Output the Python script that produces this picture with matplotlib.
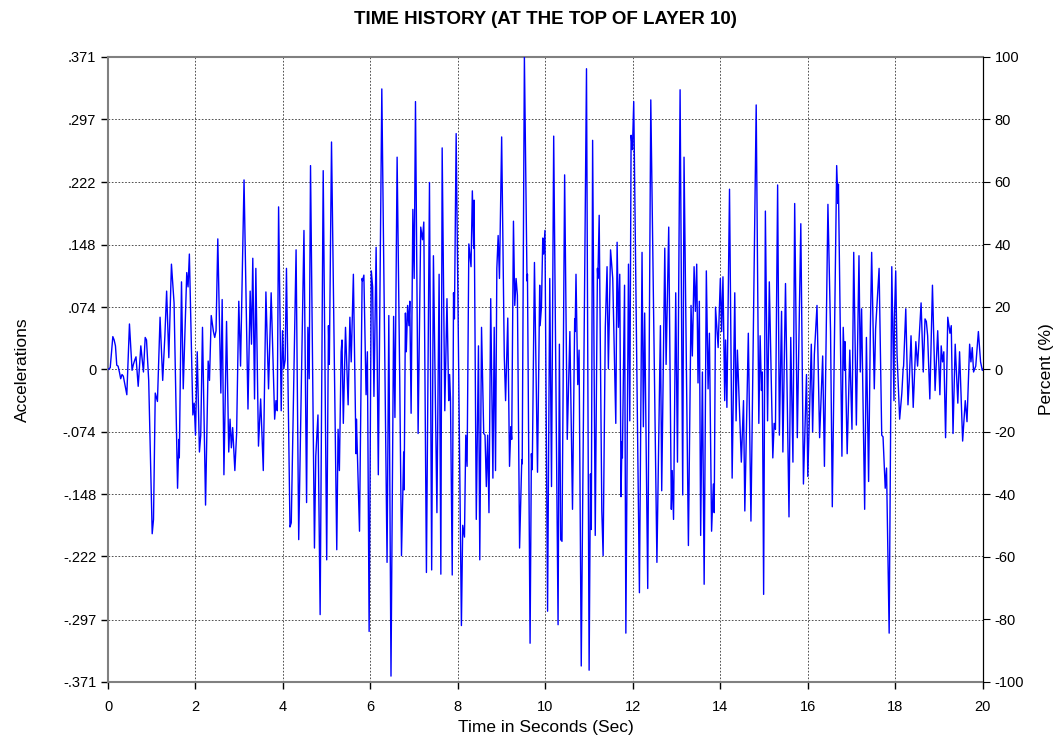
import matplotlib
matplotlib.use("Agg")
import matplotlib.pyplot as plt

plt.rcParams["font.family"] = ["Liberation Sans Narrow", "Liberation Sans", "DejaVu Sans"]
plt.rcParams["axes.unicode_minus"] = False

# turning points
time_s = [
    0.00, 0.05, 0.11, 0.14, 0.17, 0.20, 0.23, 0.26, 0.29, 0.32, 0.35, 0.38, 0.43, 0.49, 0.55, 0.58,
    0.61, 0.64, 0.69, 0.75, 0.81, 0.85, 0.88, 0.93, 1.01, 1.04, 1.08, 1.13, 1.19, 1.25, 1.30, 1.34,
    1.39, 1.45, 1.51, 1.59, 1.62, 1.63, 1.68, 1.72, 1.80, 1.83, 1.86, 1.94, 1.97, 2.00, 2.04, 2.09,
    2.12, 2.16, 2.23, 2.29, 2.32, 2.36, 2.41, 2.44, 2.47, 2.51, 2.58, 2.61, 2.65, 2.71, 2.76, 2.79,
    2.82, 2.85, 2.90, 2.94, 2.99, 3.03, 3.11, 3.20, 3.25, 3.28, 3.31, 3.35, 3.38, 3.44, 3.49, 3.55,
    3.61, 3.67, 3.73, 3.81, 3.84, 3.87, 3.90, 3.96, 3.99, 4.02, 4.05, 4.08, 4.16, 4.19, 4.30, 4.36,
    4.48, 4.54, 4.57, 4.60, 4.63, 4.72, 4.75, 4.80, 4.85, 4.92, 5.00, 5.04, 5.06, 5.11, 5.23, 5.26,
    5.29, 5.33, 5.35, 5.38, 5.43, 5.49, 5.53, 5.56, 5.61, 5.67, 5.68, 5.75, 5.81, 5.82, 5.85, 5.90,
    5.93, 5.97, 6.02, 6.05, 6.08, 6.13, 6.18, 6.26, 6.38, 6.42, 6.47, 6.53, 6.56, 6.61, 6.67, 6.71,
    6.76, 6.77, 6.80, 6.82, 6.85, 6.88, 6.90, 6.93, 6.97, 7.00, 7.03, 7.09, 7.15, 7.19, 7.22, 7.28,
    7.35, 7.40, 7.44, 7.52, 7.57, 7.61, 7.64, 7.70, 7.75, 7.79, 7.81, 7.83, 7.87, 7.90, 7.92, 7.96,
    8.08, 8.11, 8.15, 8.18, 8.21, 8.25, 8.30, 8.33, 8.36, 8.37, 8.42, 8.47, 8.50, 8.54, 8.59, 8.62,
    8.65, 8.68, 8.71, 8.75, 8.80, 8.83, 8.86, 8.89, 8.92, 8.95, 9.00, 9.06, 9.09, 9.14, 9.18, 9.21,
    9.23, 9.27, 9.30, 9.33, 9.36, 9.41, 9.46, 9.47, 9.52, 9.58, 9.59, 9.65, 9.68, 9.70, 9.75, 9.82,
    9.87, 9.88, 9.91, 9.94, 9.96, 9.99, 10.05, 10.10, 10.14, 10.19, 10.29, 10.32, 10.35, 10.38,
    10.44, 10.50, 10.56, 10.62, 10.67, 10.68, 10.70, 10.74, 10.77, 10.82, 10.94, 11.00, 11.03,
    11.05, 11.08, 11.14, 11.19, 11.20, 11.23, 11.29, 11.32, 11.37, 11.41, 11.44, 11.49, 11.54,
    11.61, 11.64, 11.67, 11.70, 11.73, 11.75, 11.76, 11.81, 11.84, 11.90, 11.93, 11.96, 11.99,
    12.02, 12.15, 12.21, 12.24, 12.27, 12.34, 12.41, 12.55, 12.63, 12.66, 12.73, 12.76, 12.82,
    12.88, 12.90, 12.93, 12.98, 13.02, 13.08, 13.14, 13.17, 13.27, 13.33, 13.36, 13.40, 13.43,
    13.46, 13.49, 13.52, 13.55, 13.59, 13.63, 13.68, 13.72, 13.75, 13.80, 13.84, 13.86, 13.89,
    13.95, 14.00, 14.03, 14.06, 14.10, 14.12, 14.15, 14.21, 14.27, 14.33, 14.36, 14.39, 14.48,
    14.53, 14.56, 14.64, 14.70, 14.82, 14.88, 14.91, 14.94, 14.96, 14.99, 15.03, 15.08, 15.12,
    15.20, 15.23, 15.26, 15.31, 15.35, 15.40, 15.43, 15.49, 15.57, 15.61, 15.66, 15.70, 15.76,
    15.84, 15.90, 15.97, 16.00, 16.08, 16.11, 16.15, 16.21, 16.27, 16.34, 16.38, 16.46, 16.52,
    16.56, 16.66, 16.69, 16.70, 16.78, 16.81, 16.84, 16.85, 16.90, 16.96, 17.01, 17.05, 17.11,
    17.17, 17.20, 17.23, 17.30, 17.34, 17.39, 17.43, 17.46, 17.52, 17.55, 17.63, 17.69, 17.72,
    17.77, 17.80, 17.86, 17.92, 17.97, 17.98, 18.01, 18.04, 18.10, 18.15, 18.18, 18.19, 18.24,
    18.29, 18.32, 18.36, 18.41, 18.47, 18.51, 18.59, 18.64, 18.68, 18.71, 18.74, 18.79, 18.85,
    18.91, 18.97, 19.02, 19.05, 19.08, 19.11, 19.15, 19.20, 19.25, 19.28, 19.32, 19.37, 19.43,
    19.47, 19.54, 19.60, 19.64, 19.70, 19.73, 19.76, 19.79, 19.84, 19.90, 19.95, 19.99, 20.00,
]
accel = [
    0.000, 0.002, 0.039, 0.035, 0.028, 0.005, 0.004, -0.003, -0.011, -0.006, -0.008, -0.016, -0.030,
    0.054, -0.001, 0.006, 0.011, 0.015, -0.020, 0.028, -0.003, 0.038, 0.035, -0.013, -0.195, -0.178,
    -0.028, -0.038, 0.062, -0.013, 0.040, 0.093, 0.014, 0.125, 0.079, -0.141, -0.083, -0.105, 0.104,
    -0.023, 0.115, 0.098, 0.137, -0.054, -0.040, -0.078, 0.021, -0.098, -0.078, 0.050, -0.161, 0.010,
    -0.013, 0.064, 0.045, 0.038, 0.046, 0.155, -0.028, 0.083, -0.125, 0.057, -0.098, -0.059, -0.093,
    -0.069, -0.120, -0.076, 0.081, 0.004, 0.225, -0.047, 0.093, 0.030, 0.132, -0.035, 0.120, -0.091,
    -0.035, -0.120, 0.092, -0.023, 0.091, -0.059, -0.037, -0.049, 0.193, -0.049, 0.046, 0.001, 0.011,
    0.120, -0.187, -0.182, 0.142, -0.202, 0.165, -0.158, 0.050, -0.011, 0.242, -0.212, -0.103, -0.054,
    -0.291, 0.236, -0.226, 0.052, 0.006, 0.270, -0.214, -0.071, -0.120, 0.021, 0.035, -0.064, 0.050,
    -0.042, 0.062, 0.009, 0.113, -0.100, -0.059, -0.192, 0.108, 0.105, 0.112, -0.030, 0.021, -0.311,
    0.117, 0.098, -0.032, 0.145, -0.125, 0.333, -0.229, 0.064, -0.364, 0.063, -0.057, 0.252, -0.013,
    -0.221, -0.098, -0.143, 0.067, 0.021, 0.076, 0.052, 0.081, -0.052, 0.190, 0.108, 0.318, -0.076,
    0.169, 0.154, 0.175, -0.241, 0.222, -0.238, 0.135, -0.170, 0.113, -0.243, 0.263, -0.049, 0.084,
    -0.037, -0.006, -0.035, -0.244, 0.091, 0.060, 0.280, -0.304, -0.185, -0.199, -0.078, -0.115,
    0.149, 0.122, 0.212, 0.144, 0.201, -0.178, 0.028, -0.226, 0.050, -0.076, -0.078, -0.139, -0.078,
    -0.170, 0.084, -0.129, 0.050, -0.120, 0.120, 0.159, 0.108, 0.276, 0.016, -0.037, 0.061, -0.115,
    -0.068, -0.083, 0.176, 0.076, 0.108, 0.088, -0.212, -0.107, -0.112, 0.371, 0.105, 0.113, -0.325,
    -0.100, -0.119, 0.127, -0.122, 0.100, 0.052, 0.074, 0.156, 0.137, 0.165, -0.287, 0.108, -0.139,
    0.277, -0.303, 0.030, -0.202, -0.204, 0.231, -0.083, 0.045, -0.166, 0.060, 0.045, 0.113, -0.018,
    0.023, -0.352, 0.357, -0.357, -0.124, -0.190, 0.272, -0.197, 0.120, 0.108, 0.183, -0.168, -0.221,
    0.050, 0.122, 0.001, 0.142, 0.108, -0.064, 0.151, 0.050, 0.113, -0.151, -0.086, -0.105, 0.100,
    -0.313, 0.125, -0.061, 0.278, 0.261, 0.318, -0.265, 0.139, -0.068, 0.067, -0.260, 0.320, -0.229,
    0.052, -0.144, 0.144, 0.006, 0.169, -0.166, -0.120, -0.178, 0.091, -0.110, 0.332, -0.149, 0.252,
    -0.209, 0.076, 0.016, 0.122, 0.069, 0.125, -0.016, 0.081, -0.197, -0.003, -0.255, 0.117, -0.023,
    0.043, -0.192, -0.136, -0.170, 0.074, 0.026, 0.108, 0.045, 0.110, -0.037, 0.035, -0.045, 0.214,
    -0.129, 0.091, -0.061, 0.023, -0.110, -0.037, -0.168, 0.043, -0.180, 0.314, -0.064, 0.040, -0.025,
    -0.003, -0.267, 0.188, -0.061, 0.104, -0.105, -0.064, -0.071, 0.219, -0.078, 0.069, -0.098, 0.102,
    -0.175, 0.038, -0.110, 0.197, -0.081, 0.173, -0.136, -0.006, -0.127, 0.030, -0.074, 0.018, 0.076,
    -0.081, 0.016, -0.115, 0.196, 0.045, -0.163, 0.242, 0.197, 0.220, -0.103, 0.050, -0.001, 0.033,
    -0.100, 0.023, -0.071, 0.139, -0.066, 0.135, -0.003, 0.072, -0.166, 0.038, -0.133, 0.048, 0.139,
    -0.023, 0.048, 0.120, -0.078, -0.080, -0.141, -0.117, -0.313, 0.122, -0.037, 0.060, 0.117, 0.018,
    -0.059, -0.028, 0.001, 0.004, 0.072, -0.042, -0.013, 0.040, -0.045, 0.033, 0.004, 0.079, -0.003,
    0.060, 0.057, 0.040, -0.035, 0.100, -0.025, 0.046, -0.030, 0.028, 0.009, 0.021, -0.081, 0.062,
    0.043, 0.052, -0.076, 0.030, -0.040, 0.021, -0.085, -0.037, -0.062, 0.030, 0.009, 0.026, -0.003,
    0.004, 0.045, 0.009, -0.001, 0.000,
]

y_ticks = [-0.371, -0.297, -0.222, -0.148, -0.074, 0.0, 0.074, 0.148, 0.222, 0.297, 0.371]
y_labels = ["-.371", "-.297", "-.222", "-.148", "-.074", "0", ".074", ".148", ".222", ".297", ".371"]
x_ticks = list(range(0, 21, 2))
pct_ticks = list(range(-100, 101, 20))

fig = plt.figure(figsize=(10.59, 7.54), dpi=100)
ax = fig.add_axes([0.102, 0.0955, 0.826, 0.829])

ax.plot(time_s, accel, color="#0000ff", linewidth=1.0, zorder=3)

ax.set_xlim(0, 20)
ax.set_ylim(-0.371, 0.371)
ax.set_xticks(x_ticks)
ax.set_yticks(y_ticks)
ax.set_yticklabels(y_labels)
ax.grid(True, color="black", linestyle=(0, (2, 2)), linewidth=0.6, alpha=0.8)
ax.tick_params(axis="both", direction="out", length=5, labelsize=10.5, width=1)
ax.tick_params(axis="x", pad=8)

for side in ["left", "bottom", "top"]:
    ax.spines[side].set_color("#808080")
    ax.spines[side].set_linewidth(1.5)
ax.spines["right"].set_color("black")

ax.set_xlabel("Time in Seconds (Sec)", fontsize=12.5, labelpad=4)
ax.set_ylabel("Accelerations", fontsize=12.5, labelpad=24)
ax.set_title("TIME HISTORY (AT THE TOP OF LAYER 10)", fontsize=13.5, fontweight="bold", pad=24)

ax2 = ax.twinx()
ax2.set_ylim(-100, 100)
ax2.set_yticks(pct_ticks)
ax2.tick_params(axis="y", direction="out", length=5, labelsize=10.5)
ax2.set_ylabel("Percent (%)", fontsize=12.5, rotation=90, labelpad=11)
for side in ["left", "bottom", "top"]:
    ax2.spines[side].set_visible(False)

fig.savefig("out.png", dpi=100)
